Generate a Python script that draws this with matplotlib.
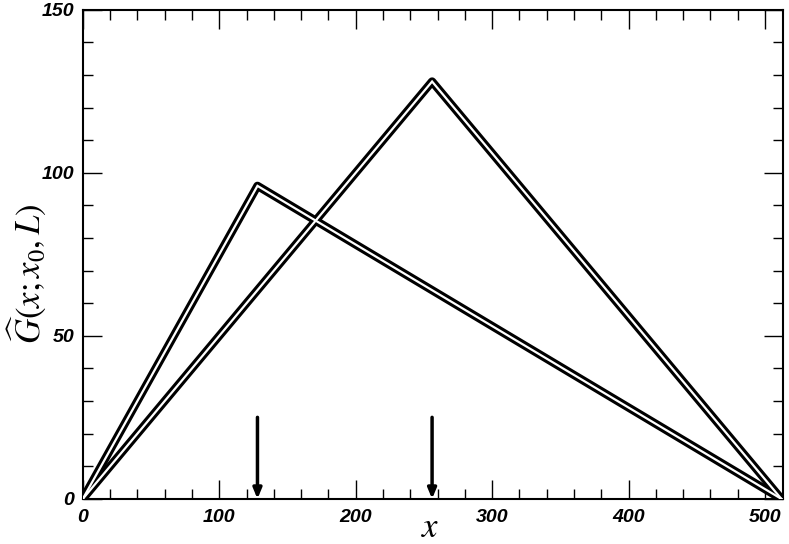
import matplotlib.pyplot as plt
from matplotlib.ticker import MultipleLocator

plt.rcParams['mathtext.fontset'] = 'stix'

# Green's function profiles, L = 512
x_a = [0, 128, 512]
g_a = [0, 96, 0]
x_b = [0, 256, 512]
g_b = [0, 128, 0]
arrow_x = [128, 256]
arrow_top = 25

fig = plt.figure(figsize=(7.89, 5.44), dpi=100)
ax = fig.add_axes([0.105, 0.083, 0.887, 0.899])

for xs, ys in [(x_a, g_a), (x_b, g_b)]:
    ax.plot(xs, ys, color='black', lw=6.0, solid_joinstyle='round', solid_capstyle='round', zorder=3)
    ax.plot(xs, ys, color='white', lw=1.6, solid_joinstyle='miter', zorder=4)

for xa in arrow_x:
    ax.annotate('', xy=(xa, 0), xytext=(xa, arrow_top),
                arrowprops=dict(arrowstyle='-|>,head_width=0.25,head_length=0.6',
                                color='black', lw=2.5, shrinkA=0, shrinkB=0))

ax.set_xlim(0, 513)
ax.set_ylim(0, 150)
ax.xaxis.set_major_locator(MultipleLocator(100))
ax.xaxis.set_minor_locator(MultipleLocator(20))
ax.yaxis.set_major_locator(MultipleLocator(50))
ax.yaxis.set_minor_locator(MultipleLocator(10))
ax.tick_params(which='both', direction='in', top=True, right=True, width=1)
ax.tick_params(which='major', length=14)
ax.tick_params(which='minor', length=7)
ax.tick_params(axis='x', pad=7)
ax.tick_params(axis='y', pad=6)
for lab in ax.get_xticklabels() + ax.get_yticklabels():
    lab.set_fontfamily('Liberation Sans')
    lab.set_fontweight('bold')
    lab.set_fontstyle('italic')
    lab.set_fontsize(14)
for s in ax.spines.values():
    s.set_linewidth(1.5)

ax.set_xlabel('$x$', fontsize=25)
ax.xaxis.set_label_coords(0.497, -0.058)
ax.xaxis.label.set_va('center')
ax.set_ylabel(r'$\widehat{G}(x;x_0,L)$', fontsize=25)
ax.yaxis.set_label_coords(-0.079, 0.46)
ax.yaxis.label.set_va('center')

fig.savefig('out.png', dpi=100)
